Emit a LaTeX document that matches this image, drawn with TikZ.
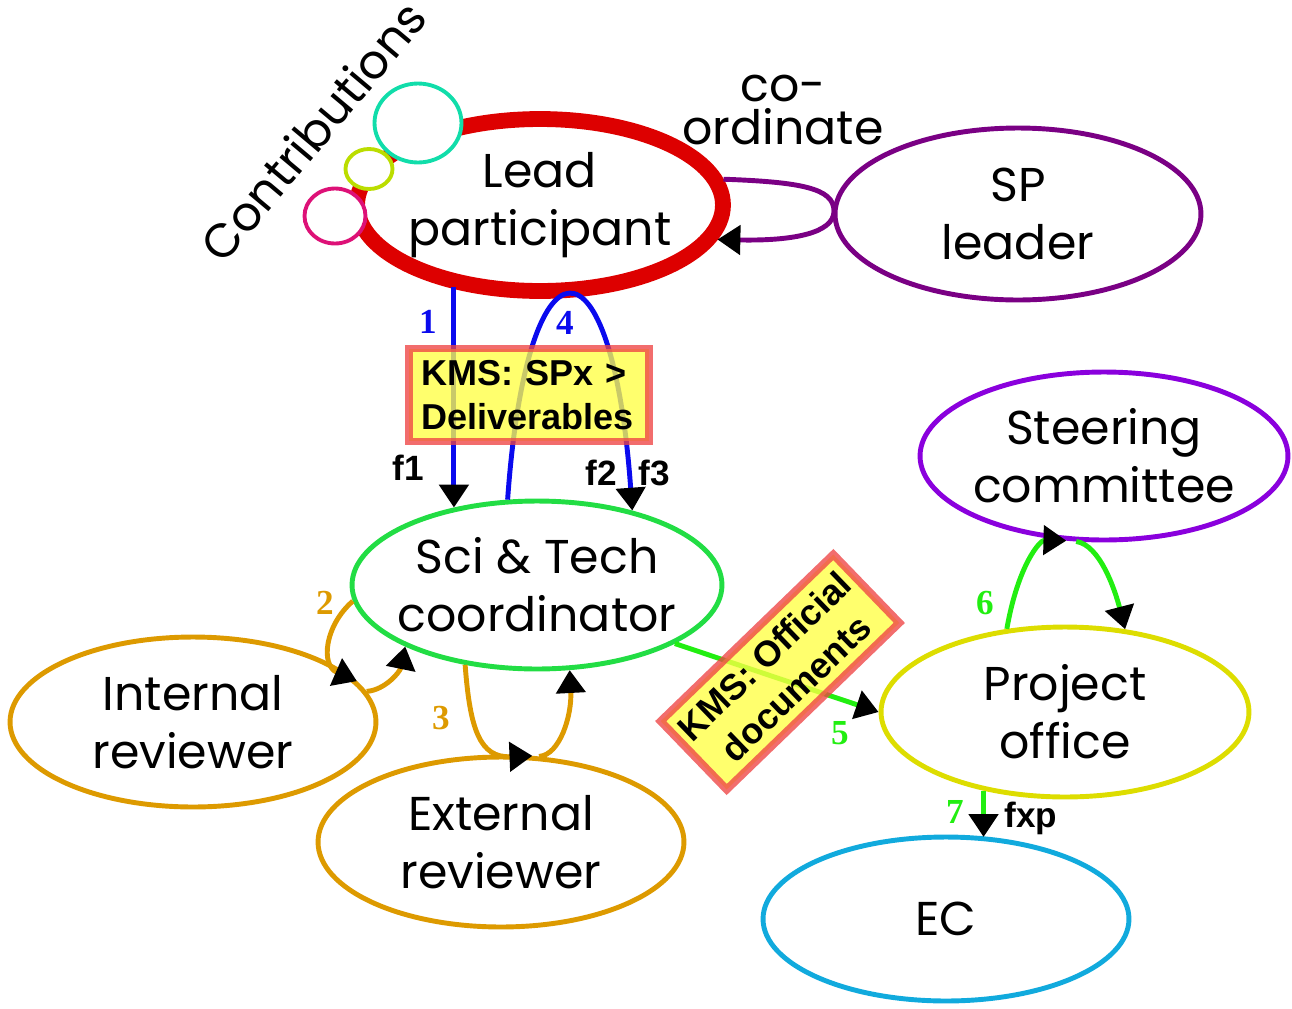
\documentclass[tikz,border=0pt]{standalone}
\usepackage{fontspec}
\setmainfont{Poppins}
\newfontfamily\tagfont{Liberation Sans}
\newfontfamily\numfont{Liberation Serif}
\usetikzlibrary{shapes.geometric,arrows.meta}

\definecolor{leadred}{HTML}{DD0000}
\definecolor{sppurple}{HTML}{7A0084}
\definecolor{scigreen}{HTML}{22DD44}
\definecolor{revorange}{HTML}{DD9A00}
\definecolor{steerviolet}{HTML}{8A00DD}
\definecolor{poyellow}{HTML}{DDDD00}
\definecolor{eccyan}{HTML}{11AADD}
\definecolor{flowblue}{HTML}{0A0AEE}
\definecolor{flowgreen}{HTML}{22EE11}
\definecolor{kmsred}{HTML}{EE4444}
\definecolor{kmsyellow}{HTML}{FFFF44}
\definecolor{teal}{HTML}{11DDAA}
\definecolor{lime}{HTML}{BBDD00}
\definecolor{magenta}{HTML}{DD1177}

\begin{document}
\begin{tikzpicture}[x=0.02cm,y=-0.02cm,
  role/.style={ellipse, draw, line width=2.8pt, inner sep=0pt},
  roletext/.style={font=\fontsize{27}{33}\selectfont, align=center},
  bubble/.style={ellipse, draw, line width=2.2pt, fill=white, inner sep=0pt},
  headtip/.style={-{Triangle[length=13pt,width=16.5pt,color=black]}},
  flow/.style={line width=2.8pt, headtip},
  stepnum/.style={font=\numfont\bfseries\fontsize{20}{20}\selectfont},
  fcode/.style={font=\tagfont\bfseries\fontsize{20}{20}\selectfont},
  kms/.style={rectangle, draw=kmsred, fill=kmsyellow, line width=4.5pt,
    draw opacity=0.78, fill opacity=0.78, text opacity=1, inner sep=0pt,
    font=\tagfont\bfseries\fontsize{20.5}{25.5}\selectfont},
]
\useasboundingbox (0,0) rectangle (1292,1008);

% roles
\node[role, draw=leadred, line width=9pt, minimum width=7.32cm, minimum height=3.44cm,
  label={[roletext]center:{Lead\\participant}}] (lead) at (540,205) {};
\node[role, draw=sppurple, minimum width=7.32cm, minimum height=3.44cm,
  label={[roletext]center:{SP\\leader}}] (sp) at (1018,214) {};
\node[role, draw=scigreen, minimum width=7.40cm, minimum height=3.36cm,
  label={[roletext]center:{Sci \& Tech\\coordinator}}] (sci) at (537,585) {};
\node[role, draw=revorange, minimum width=7.32cm, minimum height=3.40cm,
  label={[roletext]center:{Internal\\reviewer}}] (intr) at (193,722) {};
\node[role, draw=revorange, minimum width=7.32cm, minimum height=3.40cm,
  label={[roletext]center:{External\\reviewer}}] (extr) at (501,842) {};
\node[role, draw=steerviolet, minimum width=7.36cm, minimum height=3.36cm,
  label={[roletext]center:{Steering\\committee}}] (steer) at (1104,456) {};
\node[role, draw=poyellow, minimum width=7.36cm, minimum height=3.40cm,
  label={[roletext]center:{Project\\office}}] (po) at (1065,712) {};
\node[role, draw=eccyan, minimum width=7.32cm, minimum height=3.28cm,
  label={[roletext]center:{EC}}] (ec) at (946,919) {};

% contribution bubbles on the lead participant
\node[bubble, draw=teal, minimum width=1.74cm, minimum height=1.58cm] (bubA) at (418,123) {};
\node[bubble, draw=lime, minimum width=0.94cm, minimum height=0.80cm] (bubB) at (369,169) {};
\node[bubble, draw=magenta, minimum width=1.22cm, minimum height=1.10cm] (bubC) at (335,216) {};
\node[rotate=50, font=\fontsize{27}{33}\selectfont] (contrib) at (313,131) {Contributions};

% co-ordination loop between SP leader and lead participant
\coordinate (loopturn) at (834,211);
\draw[flow, draw=sppurple] (lead.8) .. controls (800,182) and (834,188) .. (loopturn)
  .. controls (834,234) and (790,241) .. (lead.349);
\node[font=\fontsize{27}{24}\selectfont, align=center] (coord) at (783,110) {co-\\ordinate};

% deliverable flows
\draw[flow, draw=flowblue] (sci.137.9 |- lead.222.9) -- (sci.137.9);
\draw[flow, draw=flowblue] (sci.109.9) .. controls (527,226) and (612,226) .. (sci.38.4);
\draw[flow, draw=revorange] (sci.185.3) .. controls (325,625) and (320,665) .. (intr.14.6);
\draw[flow, draw=revorange] (intr.10.8) .. controls (385,690) and (400,672) .. (sci.205);
\draw[flow, draw=revorange] (sci.228.9) .. controls (470,730) and (480,758) .. (extr.70.9);
\draw[flow, draw=revorange] (extr.66) .. controls (560,755) and (572,715) .. (sci.291.2);
\draw[flow, draw=flowgreen] (sci.337.2) -- (po.180.5);
\draw[flow, draw=flowgreen] (po.125.2) .. controls (1018,565) and (1040,540) .. (steer.246.4);
\draw[flow, draw=flowgreen] (steer.252) .. controls (1100,545) and (1115,590) .. (po.54.8);
\draw[flow, draw=flowgreen] (po.224.6) -- (po.224.6 |- ec.62.8);

% step numbers and form codes
\node[stepnum, text=flowblue] (n1) at (428,322) {1};
\node[stepnum, text=flowblue] (n4) at (565,323) {4};
\node[stepnum, text=revorange] (n2) at (325,603) {2};
\node[stepnum, text=revorange] (n3) at (441,718) {3};
\node[stepnum, text=flowgreen] (n5) at (840,733) {5};
\node[stepnum, text=flowgreen] (n6) at (985,603) {6};
\node[stepnum, text=flowgreen] (n7) at (955,812) {7};
\node[fcode] (f1) at (408,468) {f1};
\node[fcode] (f2) at (601,473) {f2};
\node[fcode] (f3) at (654,473) {f3};
\node[fcode] (fxp) at (1031,818) {fxp};

% knowledge management system stores
\node[kms, minimum width=4.80cm, minimum height=1.86cm, text width=4.3cm, align=left]
  (kmsdel) at (529,395) {KMS: SPx >\\Deliverables};
\node[kms, rotate=44, minimum width=4.80cm, minimum height=1.90cm, align=center]
  (kmsdoc) at (780,672) {KMS: Official\\documents};
\end{tikzpicture}
\end{document}
